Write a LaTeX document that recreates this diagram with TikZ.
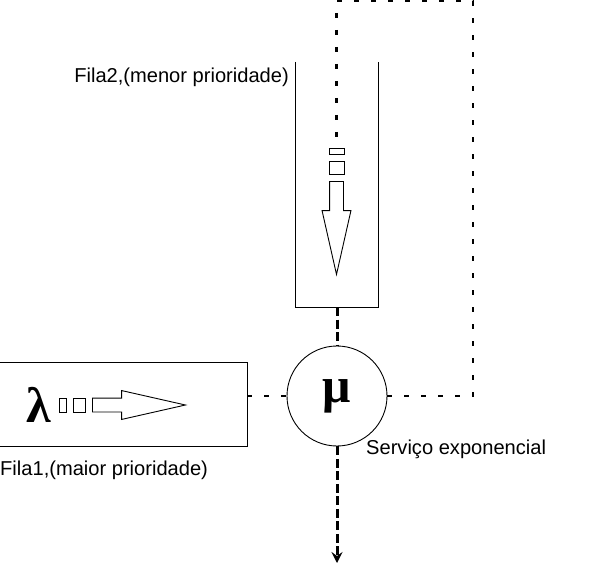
\documentclass[tikz,border=0pt]{standalone}
\usepackage{fontspec}
\setmainfont{Liberation Sans}
\newfontfamily\qsymb{Liberation Serif}
\usetikzlibrary{positioning,shapes.arrows,arrows.meta}

\begin{document}
\begin{tikzpicture}[x=1pt,y=-1pt,
        thinline/.style={line width=0.9pt},
        qbox/.style={inner sep=0pt,draw=none},
        client/.style={draw,thinline,inner sep=0pt},
        flow/.style={single arrow,draw,thinline,inner xsep=0pt,inner ysep=6.5pt,anchor=tail,
            single arrow head extend=7.5pt,single arrow tip angle=25.5,minimum height=93pt},
        dots/.style={line width=2.6pt,dash pattern=on 5pt off 12pt},
        dashes/.style={line width=3pt,dash pattern=on 9pt off 3.5pt},
        qtext/.style={font=\fontsize{20.1}{22}\selectfont,inner sep=0pt},
        greek/.style={font=\fontsize{50}{52}\selectfont\qsymb\bfseries,inner sep=0pt}]
    \useasboundingbox (0,0) rectangle (600,568);
    % queues and server
    \node[qbox,minimum width=82pt,minimum height=245pt] (fila2) at (337,184.5) {};
    \node[qbox,minimum width=247pt,minimum height=83pt] (fila1) at (123.5,404.5) {};
    \node[circle,draw,thinline,minimum size=100pt,inner sep=0pt,
        font=\fontsize{50}{52}\selectfont\qsymb\bfseries] (mu) at (337,396) {μ};
    \draw[thinline] (fila2.north west) -- (fila2.south west) -- (fila2.south east) -- (fila2.north east);
    \draw[thinline] (fila1.north west) -- (fila1.north east) -- (fila1.south east) -- (fila1.south west);
    % fila 1 contents
    \node[flow] (arrow1) at (92,405) {};
    \node[client,minimum width=12pt,minimum height=14pt,left=6pt of arrow1.tail] (c12) {};
    \node[client,minimum width=7pt,minimum height=14pt,left=6pt of c12] (c11) {};
    \node[greek,left=8pt of c11] (lambda) {λ};
    % fila 2 contents
    \node[flow,rotate=-90] (arrow2) at (336.5,181) {};
    \node[client,minimum width=15pt,minimum height=13pt,above=6pt of arrow2.tail] (c22) {};
    \node[client,minimum width=15pt,minimum height=6pt,above=6pt of c22] (c21) {};
    % connectors
    \coordinate (loopright) at (473,396);
    \coordinate (looptop) at (473,1);
    \coordinate (loopleft) at (c21 |- looptop);
    \coordinate (out) at (337,563);
    \draw[dots] (fila1.east |- mu) -- (mu.west);
    \draw[dots] (mu.east) -- (loopright) -- (looptop) -- (loopleft) -- (c21.north);
    \draw[dashes] (fila2.south) -- (mu.north);
    \draw[dashes,-{Stealth[length=11pt,width=11pt,inset=4pt]}] (mu.south) -- (out);
    % labels
    \node[qtext,anchor=base east] (lab2) at (289,82) {Fila2,(menor prioridade)};
    \node[qtext,anchor=base west] (lab1) at (0,475) {Fila1,(maior prioridade)};
    \node[qtext,anchor=base west] (labmu) at (366,454) {Serviço exponencial};
\end{tikzpicture}
\end{document}
